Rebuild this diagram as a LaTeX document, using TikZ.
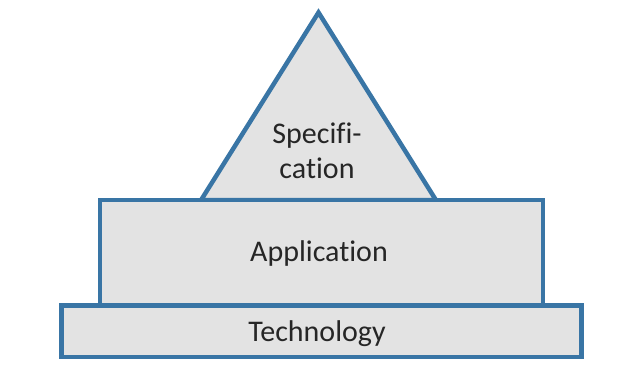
\documentclass[tikz,border=0pt]{standalone}
\usepackage{fontspec}
\setmainfont{Carlito}[Ligatures=NoCommon]
\usepackage{tikz}
\usetikzlibrary{positioning, calc}
\definecolor{layerblue}{RGB}{57,117,165}
\definecolor{layergray}{RGB}{227,227,227}
\definecolor{labelgray}{RGB}{38,38,38}
\tikzset{
    layer/.style={draw=layerblue, fill=layergray, line width=4.5pt},
    lbl/.style={anchor=base, text=labelgray, inner sep=0pt, font=\fontsize{30}{35}\selectfont}
}

\begin{document}
\begin{tikzpicture}[x=1pt, y=-1pt]
            \useasboundingbox (0,0) rectangle (626,367);
            \draw[layer] (318.5,12.5) -- (435.9,200) -- (201.1,200) -- cycle;
            \draw[layer] (100,200) rectangle (543,305.5);
            \draw[layer] (61.7,305.5) rectangle (581.5,357);
            \node[lbl, align=center] (spec) at (317,178) {Specifi-\\cation};
            \node[lbl] (app) at (319,261.7) {Application};
            \node[lbl] (tech) at (317,341.7) {Technology};
        \end{tikzpicture}
\end{document}
